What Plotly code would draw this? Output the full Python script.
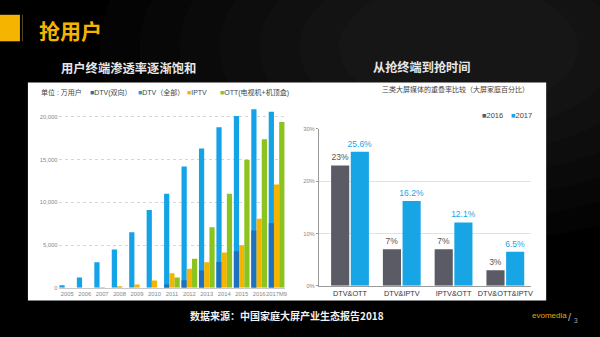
import plotly.graph_objects as go

W, H = 600, 337
def px(x): return x / W
def py(y): return 1 - y / H

# ---------------- data ----------------
years = ["2005", "2006", "2007", "2008", "2009", "2010", "2011", "2012",
         "2013", "2014", "2015", "2016", "2017M9"]
dtv_all = [300, 1200, 3000, 4500, 6500, 9100, 11000, 14200, 16300, 18800, 20100, 20900, 20600]
dtv_two = [0, 0, 0, 0, 0, 0, 400, 880, 2030, 3020, 4290, 6700, 7550]
iptv = [0, 0, 50, 200, 400, 850, 1720, 2220, 2990, 4140, 4980, 8080, 12100]
ott = [0, 0, 0, 0, 0, 0, 1200, 3400, 7100, 11000, 15000, 17400, 19400]

pairs = ["DTV&OTT", "DTV&IPTV", "IPTV&OTT", "DTV&OTT&IPTV"]
overlap_2016 = [23, 7, 7, 3]
overlap_2017 = [25.6, 16.2, 12.1, 6.5]
pct_ticks = [0, 10, 20, 30]

C_ALL = "#13a3e6"
C_TWO = "#2071bd"
C_IPTV = "#f6b402"
C_OTT = "#8bc31f"
C_16 = "#5a5b64"
C_17 = "#17a5e6"
FONT = "Noto Sans CJK SC"
LAT = "Liberation Sans, Arial, Noto Sans CJK SC"
NARROW = "Liberation Sans Narrow, Arial Narrow, Liberation Sans"

fig = go.Figure()

# left chart
fig.add_trace(go.Bar(x=years, y=dtv_all, name="DTV（全部）", marker_color=C_ALL,
                     width=0.3, offset=-0.45, xaxis="x", yaxis="y", marker_line_width=0))
fig.add_trace(go.Bar(x=years, y=dtv_two, name="DTV(双向)", marker_color=C_TWO,
                     width=0.3, offset=-0.45, xaxis="x", yaxis="y", marker_line_width=0))
fig.add_trace(go.Bar(x=years, y=iptv, name="IPTV", marker_color=C_IPTV,
                     width=0.3, offset=-0.15, xaxis="x", yaxis="y", marker_line_width=0))
fig.add_trace(go.Bar(x=years, y=ott, name="OTT(电视机+机顶盒)", marker_color=C_OTT,
                     width=0.3, offset=0.15, xaxis="x", yaxis="y", marker_line_width=0))

# right chart
fig.add_trace(go.Bar(x=pairs, y=overlap_2016, name="2016", marker_color=C_16,
                     width=0.35, offset=-0.365, xaxis="x2", yaxis="y2", marker_line_width=0,
                     text=[f"{v:g}%" for v in overlap_2016], textposition="outside",
                     constraintext="none",
                     textfont=dict(size=8.5, color="#555", family=LAT), cliponaxis=False))
fig.add_trace(go.Bar(x=pairs, y=overlap_2017, name="2017", marker_color=C_17,
                     width=0.35, offset=0.015, xaxis="x2", yaxis="y2", marker_line_width=0,
                     text=[f"{v:g}%" for v in overlap_2017], textposition="outside",
                     constraintext="none",
                     textfont=dict(size=8.5, color=C_17, family=LAT), cliponaxis=False))

shapes = []
# background glow (approximate radial gradient, top right)
for r in [360, 320, 280, 240, 200, 160, 120]:
    shapes.append(dict(type="circle", xref="paper", yref="paper",
                       x0=px(460 - r), x1=px(460 + r), y0=py(45 + r * 0.55), y1=py(45 - r * 0.55),
                       fillcolor="#a0a0a0", opacity=0.022, line_width=0, layer="below"))
# white panel
shapes.append(dict(type="rect", xref="paper", yref="paper", x0=px(28), x1=px(548),
                   y0=py(303), y1=py(81), fillcolor="white", line_width=0, layer="below"))
# yellow title block and separator
shapes.append(dict(type="rect", xref="paper", yref="paper", x0=px(0), x1=px(20),
                   y0=py(39), y1=py(12), fillcolor="#f5b400", line_width=0))
shapes.append(dict(type="rect", xref="paper", yref="paper", x0=px(22), x1=px(23),
                   y0=py(39), y1=py(12), fillcolor="#5a4a20", line_width=0))

def ann(text, x, y, size, color, xanchor="left", bold=False, family=FONT, **kw):
    t = f"<b>{text}</b>" if bold else text
    return dict(text=t, x=px(x), y=py(y), xref="paper", yref="paper", showarrow=False,
                xanchor=xanchor, yanchor="middle", font=dict(size=size, color=color, family=family), **kw)

sq = lambda c: f"<span style='color:{c}'>■</span>"
annotations = [
    ann("抢用户", 37, 27, 21, "#f5b400", bold=True),
    ann("用户终端渗透率逐渐饱和", 59, 66, 12.3, "#e6e6e6", bold=True),
    ann("从抢终端到抢时间", 372, 65, 12.2, "#e6e6e6", bold=True),
    # left legend
    ann("单位 : 万用户", 39, 91, 7, "#444", family=LAT),
    ann(sq(C_TWO) + "DTV(双向）", 88, 91, 7, "#444", family=LAT),
    ann(sq(C_ALL) + "DTV（全部）", 136, 91, 7, "#444", family=LAT),
    ann(sq(C_IPTV) + "IPTV", 186, 91, 7, "#444", family=LAT),
    ann(sq(C_OTT) + "OTT(电视机+机顶盒)", 219, 91, 7, "#444", family=LAT),
    # right titles / legend
    ann("三类大屏媒体的重叠率比较（大屏家庭百分比）", 533, 88, 7, "#444", xanchor="right"),
    ann(sq(C_16) + "2016", 482, 115, 7.5, "#444", family=LAT),
    ann(sq(C_17) + "2017", 511, 115, 7.5, "#444", family=LAT),
    # footer
    ann("数据来源：中国家庭大屏产业生态报告2018", 189, 318, 10, "#f2f2f2", bold=True),
    ann("evomedia", 532, 318, 8, "#e0a800", family=LAT),
    ann("/", 568, 320, 11, "#aaaaaa", family=LAT),
    ann("3", 574, 323, 6.5, "#aaaaaa", family=LAT),
]

tickfont = dict(size=5.8, color="#888", family=NARROW)
fig.update_layout(
    width=W, height=H, margin=dict(l=0, r=0, t=0, b=0),
    paper_bgcolor="#000000", plot_bgcolor="rgba(0,0,0,0)",
    barmode="overlay", showlegend=False,
    font=dict(family=FONT),
    shapes=shapes, annotations=annotations,
    xaxis=dict(domain=[px(58.75), px(286.25)], range=[-0.5, 12.5], type="category",
               showgrid=False, showline=True, linecolor="#c8c8c8", linewidth=1,
               ticks="", tickangle=0, tickfont=tickfont, fixedrange=True, anchor="y"),
    yaxis=dict(domain=[py(290), py(100)], range=[0, 21839], tickvals=[0, 5000, 10000, 15000, 20000],
               tickformat=",d", showgrid=True, gridcolor="#d6d6d6", griddash="dot", gridwidth=1,
               zeroline=False, showline=False, ticks="", tickfont=tickfont, anchor="x"),
    xaxis2=dict(domain=[px(320), px(533)], range=[-0.6, 3.5], type="category",
                showgrid=False, showline=True, linecolor="#9a9a9a", linewidth=1,
                ticks="", tickangle=0, tickfont=dict(size=7.3, color="#333", family=LAT), anchor="y2"),
    yaxis2=dict(domain=[py(288), py(128)], range=[0, 30], tickvals=pct_ticks,
                ticktext=[f"{v}%" for v in pct_ticks], showgrid=True, gridcolor="#e2e2e2", gridwidth=1,
                zeroline=False, showline=True, linecolor="#9a9a9a", linewidth=1,
                ticks="outside", ticklen=2, tickcolor="#9a9a9a",
                tickfont=dict(size=5.8, color="#888", family=LAT), anchor="x2"),
)

fig.write_html("out.html")
